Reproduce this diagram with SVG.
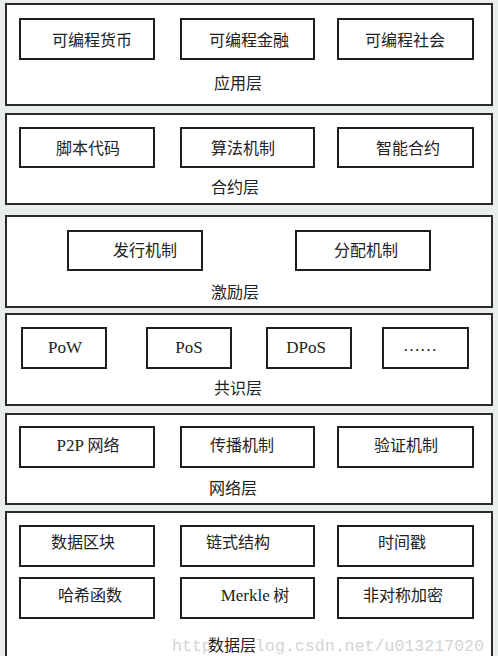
<svg xmlns="http://www.w3.org/2000/svg" width="498" height="656" viewBox="0 0 498 656">
<style>
.layer{fill:#ffffff;stroke:#2a2a2a;stroke-width:2}
.box{fill:#ffffff;stroke:#1e1e1e;stroke-width:2}
.t{font-family:"Noto Sans CJK SC",sans-serif;font-size:16px;fill:#222;text-anchor:middle}
.l{font-family:"Liberation Serif","Noto Sans CJK SC",serif;font-size:17px;fill:#222;text-anchor:middle}
.wm{font-family:"Liberation Mono",monospace;font-size:16.6px;fill:#d4d4d4}
</style>
<rect x="0" y="0" width="498" height="656" fill="#e9ede9"/>

<g id="layer-app">
<rect class="layer" x="6" y="4" width="486" height="101"/>
<text class="t" x="238" y="89">应用层</text>
</g>
<g id="n-programmable-currency"><rect class="box" x="20" y="19" width="134" height="40"/><text class="t" x="92" y="46">可编程货币</text></g>
<g id="n-programmable-finance"><rect class="box" x="181" y="19" width="133" height="40"/><text class="t" x="249" y="46">可编程金融</text></g>
<g id="n-programmable-society"><rect class="box" x="338" y="19" width="135" height="40"/><text class="t" x="405" y="46">可编程社会</text></g>

<g id="layer-contract">
<rect class="layer" x="6" y="114" width="486" height="90"/>
<text class="t" x="235" y="193">合约层</text>
</g>
<g id="n-script"><rect class="box" x="20" y="128" width="134" height="39"/><text class="t" x="88" y="154">脚本代码</text></g>
<g id="n-algorithm"><rect class="box" x="181" y="128" width="133" height="39"/><text class="t" x="243" y="154">算法机制</text></g>
<g id="n-smart-contract"><rect class="box" x="338" y="128" width="135" height="39"/><text class="t" x="408" y="154">智能合约</text></g>

<g id="layer-incentive">
<rect class="layer" x="6" y="216" width="486" height="91"/>
<text class="t" x="235" y="298">激励层</text>
</g>
<g id="n-issuance"><rect class="box" x="68" y="231" width="134" height="39"/><text class="t" x="145" y="256">发行机制</text></g>
<g id="n-distribution"><rect class="box" x="296" y="231" width="134" height="39"/><text class="t" x="366" y="256">分配机制</text></g>

<g id="layer-consensus">
<rect class="layer" x="6" y="314" width="486" height="91"/>
<text class="t" x="238" y="394">共识层</text>
</g>
<g id="n-pow"><rect class="box" x="22" y="328" width="84" height="40"/><text class="l" x="65" y="353">PoW</text></g>
<g id="n-pos"><rect class="box" x="147" y="328" width="84" height="40"/><text class="l" x="189" y="353">PoS</text></g>
<g id="n-dpos"><rect class="box" x="267" y="328" width="84" height="40"/><text class="l" x="306" y="353">DPoS</text></g>
<g id="n-more"><rect class="box" x="383" y="328" width="85" height="40"/><text class="l" x="420" y="351">……</text></g>

<g id="layer-network">
<rect class="layer" x="6" y="414" width="486" height="90"/>
<text class="t" x="233" y="494">网络层</text>
</g>
<g id="n-p2p"><rect class="box" x="20" y="427" width="134" height="40"/><text class="t" x="88" y="451"><tspan style="font-family:'Liberation Serif',serif;font-size:17px">P2P</tspan> 网络</text></g>
<g id="n-propagation"><rect class="box" x="181" y="427" width="133" height="40"/><text class="t" x="242" y="451">传播机制</text></g>
<g id="n-verification"><rect class="box" x="338" y="427" width="135" height="40"/><text class="t" x="406" y="451">验证机制</text></g>

<g id="layer-data">
<rect class="layer" x="6" y="512" width="486" height="150"/>
<text class="wm" x="172" y="651">http</text>
<text class="wm" x="255" y="651">log.csdn.net/u013217020</text>
<text class="t" x="232" y="651">数据层</text>
</g>
<g id="n-block"><rect class="box" x="20" y="526" width="134" height="40"/><text class="t" x="83" y="548">数据区块</text></g>
<g id="n-chain"><rect class="box" x="181" y="526" width="133" height="40"/><text class="t" x="238" y="548">链式结构</text></g>
<g id="n-timestamp"><rect class="box" x="338" y="526" width="135" height="40"/><text class="t" x="402" y="548">时间戳</text></g>
<g id="n-hash"><rect class="box" x="20" y="578" width="134" height="40"/><text class="t" x="90" y="601">哈希函数</text></g>
<g id="n-merkle"><rect class="box" x="181" y="578" width="133" height="40"/><text class="t" x="255" y="601"><tspan style="font-family:'Liberation Serif',serif;font-size:17px">Merkle</tspan> 树</text></g>
<g id="n-asymmetric"><rect class="box" x="338" y="578" width="135" height="40"/><text class="t" x="403" y="601">非对称加密</text></g>

<g id="connectors"></g>
</svg>
